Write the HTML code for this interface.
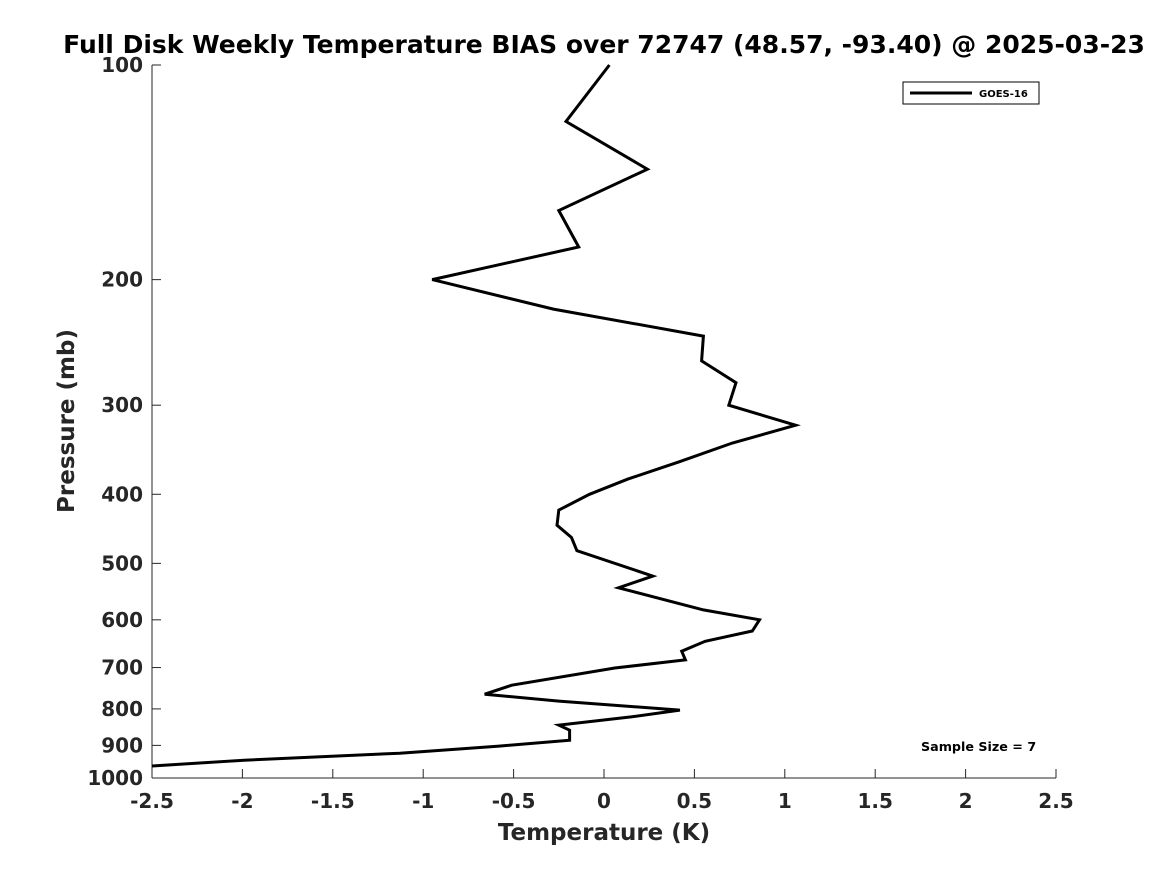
<!DOCTYPE html>
<html><head><meta charset="utf-8"><style>
body{margin:0;background:#fff;}
svg{display:block;font-family:"DejaVu Sans","Liberation Sans",sans-serif;}
</style></head><body>
<svg id="chart" width="1167" height="875">
<text x="604" y="53" text-anchor="middle" font-size="25" font-weight="bold">Full Disk Weekly Temperature BIAS over 72747 (48.57, -93.40) @ 2025-03-23</text>
<g id="axes"></g>
<g id="plot"></g>
<text x="604" y="840" text-anchor="middle" font-size="23" font-weight="bold" fill="#262626">Temperature (K)</text>
<text transform="translate(74,421) rotate(-90)" text-anchor="middle" font-size="23" font-weight="bold" fill="#262626">Pressure (mb)</text>
<g>
<rect x="903" y="82" width="136" height="22" fill="#fff" stroke="#000" stroke-width="1"/>
<line x1="910" y1="93" x2="972" y2="93" stroke="#000" stroke-width="3"/>
<text x="979" y="97" font-size="10" font-weight="bold">GOES-16</text>
</g>
<text x="921" y="751" font-size="12.7" font-weight="bold">Sample Size = 7</text>
</svg>
<script>
const xTicks=[-2.5,-2,-1.5,-1,-0.5,0,0.5,1,1.5,2,2.5];
const xTickLabels=["-2.5","-2","-1.5","-1","-0.5","0","0.5","1","1.5","2","2.5"];
const yTicks=[100,200,300,400,500,600,700,800,900,1000];
const temps=[0.03,-0.21,0.24,-0.25,-0.14,-0.95,-0.28,0.55,0.54,0.73,0.69,1.06,0.71,0.42,0.13,-0.08,-0.25,-0.26,-0.18,-0.15,0.27,0.08,0.55,0.86,0.82,0.56,0.43,0.45,0.06,-0.51,-0.66,-0.25,0.42,0.15,-0.25,-0.19,-0.19,-0.58,-1.13,-1.99,-2.5];
const pressures=[100,120,140,160,180,200,220,240,260,279,300,320,339,360,381,400,421,442,460,480,521,541,581,600,622,643,664,683,701,741,763,780,803,821,843,857,885,902,923,944,962];
const X0=152,X1=1056,Y0=65,Y1=778;
const sx=v=>X0+(v+2.5)/5*(X1-X0);
const sy=p=>Y0+Math.log10(p/100)*(Y1-Y0);
const NS="http://www.w3.org/2000/svg";
const axes=document.getElementById('axes'),plot=document.getElementById('plot');
function mk(tag,at,parent){const e=document.createElementNS(NS,tag);for(const k in at)e.setAttribute(k,at[k]);parent.appendChild(e);return e;}
let l=mk('line',{x1:X0,y1:Y0,x2:X0,y2:Y1,stroke:'#262626','stroke-width':1},axes);


l=mk('line',{x1:X0,y1:Y1,x2:X1,y2:Y1,stroke:'#262626','stroke-width':1},axes);


xTicks.forEach((v,i)=>{const x=sx(v);
 const t=mk('line',{x1:x,y1:Y1,x2:x,y2:Y1-9,stroke:'#262626'},axes);
 
 
 const tx=mk('text',{x:x,y:808,'text-anchor':'middle','font-size':20,'font-weight':'bold',fill:'#262626'},axes);
 tx.textContent=xTickLabels[i];
 
 
});
yTicks.forEach(p=>{const y=sy(p);
 const t=mk('line',{x1:X0,y1:y,x2:X0+9,y2:y,stroke:'#262626'},axes);
 
 
 const tx=mk('text',{x:143,y:y+7,'text-anchor':'end','font-size':20,'font-weight':'bold',fill:'#262626'},axes);
 tx.textContent=String(p);
 
 
});
const pts=temps.map((t,i)=>sx(t).toFixed(1)+','+sy(pressures[i]).toFixed(1)).join(' ');
const pl=mk('polyline',{points:pts,fill:'none',stroke:'#000','stroke-width':3,'stroke-linejoin':'miter'},plot);


</script>
</body></html>
